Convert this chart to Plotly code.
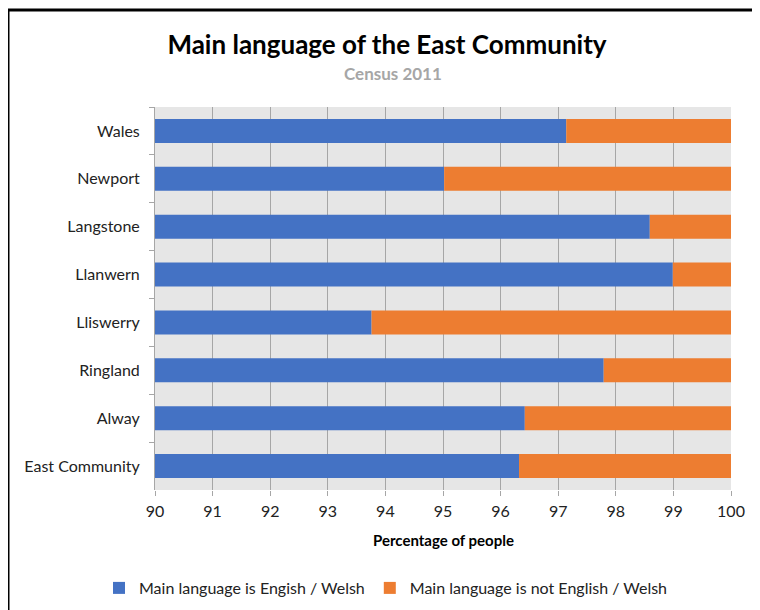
import plotly.graph_objects as go

# Census 2011, share of people by main language (percent)
areas = ["Wales", "Newport", "Langstone", "Llanwern", "Lliswerry",
         "Ringland", "Alway", "East Community"]
english_welsh = [97.14, 95.02, 98.59, 98.99, 93.76, 97.79, 96.42, 96.32]
not_english_welsh = [round(100 - v, 2) for v in english_welsh]

x_ticks = list(range(90, 101))

BLUE = "#4472C4"
ORANGE = "#ED7D31"
GRID = "#a6a6a6"
FONT = "Lato, 'Open Sans', sans-serif"

# page body adds an 8px offset, so the figure is 8px smaller on each axis
OFF = 8
W, H = 760 - OFF, 610 - OFF
L, R, T, B = 155 - OFF, 29, 107 - OFF, 120
plot_h = H - T - B
plot_w = W - L - R


def py(y_ref):
    """reference pixel row -> paper y"""
    return 1 - (y_ref - OFF - T) / plot_h


def px(x_ref):
    """reference pixel column -> paper x"""
    return (x_ref - OFF - L) / plot_w


fig = go.Figure()
fig.add_trace(go.Bar(
    y=areas, x=[v - 90 for v in english_welsh], base=90,
    orientation="h", name="Main language is Engish / Welsh",
    marker=dict(color=BLUE, line=dict(width=0)),
    width=0.5,
))
fig.add_trace(go.Bar(
    y=areas, x=not_english_welsh, base=english_welsh,
    orientation="h", name="Main language is not English / Welsh",
    marker=dict(color=ORANGE, line=dict(width=0)),
    width=0.5,
))

fig.update_layout(
    width=W, height=H,
    margin=dict(l=L, r=R, t=T, b=B, autoexpand=False),
    paper_bgcolor="white",
    plot_bgcolor="#e6e6e6",
    barmode="overlay",
    font=dict(family=FONT, size=16, color="#222222"),
    title=dict(
        text="<b>Main language of the East Community</b>",
        x=(387 - OFF) / W, xanchor="center", xref="container",
        y=1 - (45 - OFF) / H, yanchor="middle", yref="container",
        font=dict(size=26, color="black", family=FONT),
    ),
    showlegend=True,
    legend=dict(
        orientation="h", x=px(386), xanchor="center",
        y=py(588), yanchor="middle",
        font=dict(size=16, color="#222222"),
        traceorder="normal", itemwidth=30,
    ),
)

fig.update_xaxes(
    range=[90, 100], tickvals=x_ticks, ticktext=[str(t) for t in x_ticks],
    showgrid=True, gridcolor=GRID, gridwidth=1,
    ticks="outside", ticklen=5, tickcolor=GRID,
    zeroline=False, showline=False, automargin=False,
    tickfont=dict(size=16, color="#222222"),
    ticklabelstandoff=2,
)
fig.update_yaxes(
    categoryorder="array", categoryarray=areas, autorange="reversed",
    tickson="boundaries", ticks="outside", ticklen=5, tickcolor=GRID,
    showline=True, linecolor=GRID, linewidth=1, automargin=False,
    showgrid=False, tickfont=dict(size=16, color="#222222"),
    ticklabelstandoff=11,
)

fig.add_annotation(
    text="<b>Census 2011</b>", xref="paper", yref="paper",
    x=px(393), y=py(73), yanchor="middle",
    showarrow=False, font=dict(size=17, color="#a6a6a6", family=FONT),
)
fig.add_annotation(
    text="<b>Percentage of people</b>", xref="paper", yref="paper",
    x=px(443), y=py(540), yanchor="middle", showarrow=False,
    font=dict(size=15, color="black", family=FONT),
)

# black frame along the top and left edges
fx = px(8)
fy = py(10)
fig.add_shape(type="line", xref="paper", yref="paper",
              x0=fx, x1=2, y0=fy, y1=fy, line=dict(color="black", width=3))
fig.add_shape(type="line", xref="paper", yref="paper",
              x0=fx, x1=fx, y0=fy, y1=-2, line=dict(color="black", width=3))

fig.write_html("out.html")
